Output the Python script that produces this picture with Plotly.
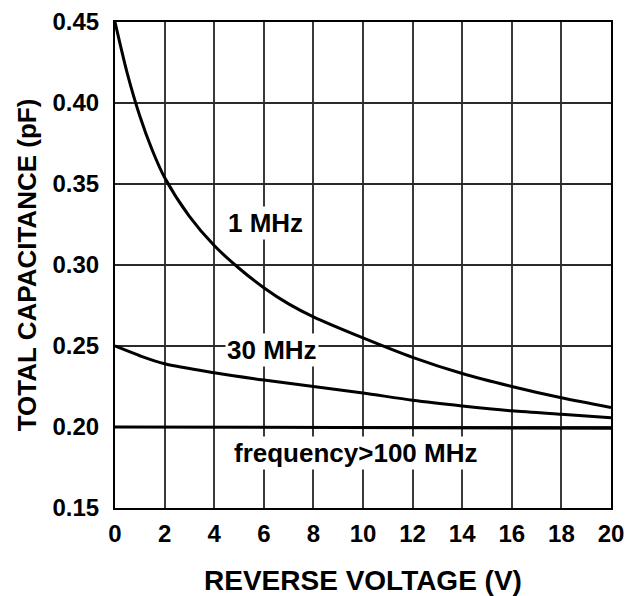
import plotly.graph_objects as go

# Data
v_1mhz = [0, 0.5, 1, 1.5, 2, 3, 4, 5, 6, 7, 8, 10, 12, 14, 16, 18, 20]
c_1mhz = [0.450, 0.418, 0.392, 0.371, 0.354, 0.330, 0.312, 0.298, 0.286, 0.276,
          0.268, 0.255, 0.243, 0.233, 0.225, 0.218, 0.212]

v_30mhz = [0, 1, 2, 4, 6, 8, 10, 12, 14, 16, 18, 20]
c_30mhz = [0.250, 0.244, 0.239, 0.2335, 0.229, 0.225, 0.221, 0.2165, 0.213,
           0.210, 0.2078, 0.2057]

v_100mhz = [0, 20]
c_100mhz = [0.200, 0.1993]

x_ticks = list(range(0, 21, 2))
y_ticks = [0.15, 0.20, 0.25, 0.30, 0.35, 0.40, 0.45]

labels = ["1 MHz", "30 MHz", "frequency>100 MHz"]
label_x = [6.05, 6.34, 9.68]
label_y = [0.326, 0.2476, 0.184]

FONT = "Liberation Sans, Arial, sans-serif"

fig = go.Figure()
for vx, cy in [(v_1mhz, c_1mhz), (v_30mhz, c_30mhz), (v_100mhz, c_100mhz)]:
    fig.add_trace(go.Scatter(x=vx, y=cy, mode="lines",
                             line=dict(color="black", width=3, shape="spline", smoothing=0.8),
                             showlegend=False, hoverinfo="skip"))

for t, lx, ly in zip(labels, label_x, label_y):
    fig.add_annotation(x=lx, y=ly, text=t, showarrow=False,
                       font=dict(family=FONT, size=26, color="black", weight="bold"),
                       bgcolor="white", borderpad=1)

axis_common = dict(showgrid=True,
                   showline=True, linecolor="black", linewidth=2, mirror=True,
                   zeroline=False, ticks="outside", tickcolor="rgba(0,0,0,0)",
                   automargin=False,
                   tickfont=dict(family=FONT, size=24, color="black", weight="bold"))

fig.update_xaxes(range=[0, 20], tickvals=x_ticks, ticklen=3,
                 gridcolor="#3a3a3a", gridwidth=2,
                 title=dict(text="REVERSE VOLTAGE (V)", standoff=27,
                            font=dict(family=FONT, size=28, color="black", weight="bold")),
                 **axis_common)
fig.update_yaxes(range=[0.15, 0.45], tickvals=y_ticks, tickformat=".2f", ticklen=9,
                 gridcolor="#2a2a2a", gridwidth=1.5,
                 title=dict(text="TOTAL CAPACITANCE (pF)", standoff=8,
                            font=dict(family=FONT, size=26, color="black", weight="bold")),
                 **axis_common)

fig.update_layout(width=627, height=596, margin=dict(l=115, r=16, t=22, b=88),
                  paper_bgcolor="white", plot_bgcolor="white",
                  font=dict(family=FONT, color="black"))

# remove the default page margin so the figure fills the window exactly
fig.write_html("out.html", config={"displayModeBar": False},
               post_script="document.body.style.margin='0';document.body.style.overflow='hidden';")
